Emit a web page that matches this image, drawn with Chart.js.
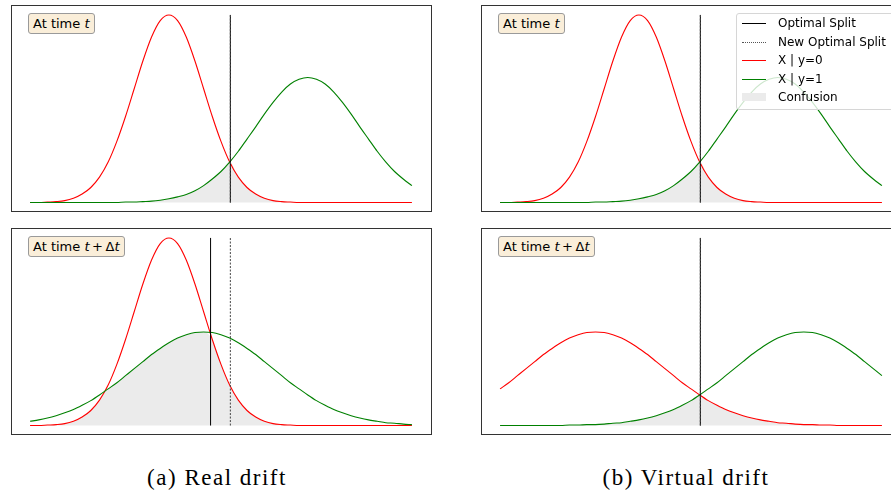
<!DOCTYPE html>
<html>
<head>
<meta charset="utf-8">
<script src="https://cdn.jsdelivr.net/npm/chart.js@4/dist/chart.umd.min.js"></script>
<style>
html, body { margin: 0; padding: 0; background: #fff; }
body { width: 891px; height: 496px; overflow: hidden; position: relative; font-family: "DejaVu Sans", sans-serif; }
.panel { position: absolute; width: 421px; height: 207px; border: 1px solid #333; box-sizing: border-box; }
.panel canvas { display: block; }
.tag { position: absolute; background: #faeed9; border: 1px solid #9a9a9a; border-radius: 3px; padding: 0 4px; font-size: 13px; line-height: 19px; color: #000; white-space: nowrap; }
.caption { position: absolute; top: 465px; font-family: "Liberation Serif", serif; font-size: 23px; letter-spacing: 1.5px; transform: translateX(-50%); white-space: nowrap; }
.legend { position: absolute; left: 736px; top: 13px; width: 170px; padding: 0 0 2px 0; background: rgba(255,255,255,0.8); border: 1px solid #d6d6d6; border-radius: 3px; font-size: 12px; }
.legend .row { height: 18.6px; line-height: 18.6px; white-space: nowrap; position: relative; padding-left: 41px; }
.legend .key { position: absolute; left: 5px; top: 9px; width: 24px; height: 0; }
</style>
</head>
<body>

<div class="panel" style="left:11px;top:5px;"><canvas id="realBefore"></canvas></div>
<div class="panel" style="left:11px;top:228px;"><canvas id="realAfter"></canvas></div>
<div class="panel" style="left:481px;top:5px;"><canvas id="virtualBefore"></canvas></div>
<div class="panel" style="left:481px;top:228px;"><canvas id="virtualAfter"></canvas></div>

<div class="tag" style="left:28px;top:13px;">At time <i>t</i></div>
<div class="tag" style="left:28px;top:236px;">At time <i>t</i>&#8201;+&#8201;Δ<i>t</i></div>
<div class="tag" style="left:498px;top:13px;">At time <i>t</i></div>
<div class="tag" style="left:498px;top:236px;">At time <i>t</i>&#8201;+&#8201;Δ<i>t</i></div>

<div class="legend" id="legend"></div>

<div class="caption" style="left:217px;">(a) Real drift</div>
<div class="caption" style="left:686px;">(b) Virtual drift</div>

<script>
// x positions of the sampled densities
var xs = [0, 0.25, 0.5, 0.75, 1, 1.25, 1.5, 1.75, 2, 2.25, 2.5, 2.75, 3, 3.25, 3.5, 3.75, 4, 4.25, 4.5, 4.75,
          5, 5.25, 5.5, 5.75, 6, 6.25, 6.5, 6.75, 7, 7.25, 7.5, 7.75, 8, 8.25, 8.5, 8.75, 9, 9.25, 9.5, 9.75,
          10, 10.25, 10.5, 10.75, 11];

// X | y=0 at time t (also real drift at t + dt)
var redBefore = [0, 0, 0.001, 0.002, 0.004, 0.009, 0.018, 0.032, 0.054, 0.086, 0.130, 0.183, 0.242, 0.301, 0.352, 0.387,
                 0.399, 0.387, 0.352, 0.301, 0.242, 0.183, 0.130, 0.086, 0.054, 0.032, 0.018, 0.009, 0.004, 0.002, 0.001,
                 0, 0, 0, 0, 0, 0, 0, 0, 0, 0, 0, 0, 0, 0];
// X | y=1 at time t
var greenBefore = [0, 0, 0, 0, 0, 0, 0, 0, 0, 0, 0, 0.001, 0.001, 0.002, 0.003, 0.005, 0.008, 0.012, 0.017, 0.025,
                   0.036, 0.050, 0.066, 0.086, 0.109, 0.135, 0.161, 0.188, 0.213, 0.235, 0.252, 0.262, 0.266, 0.262,
                   0.252, 0.235, 0.213, 0.188, 0.161, 0.135, 0.109, 0.086, 0.066, 0.050, 0.036];
// real drift, X | y=1 at t + dt
var greenRealAfter = [0.009, 0.012, 0.016, 0.021, 0.027, 0.034, 0.043, 0.053, 0.065, 0.078, 0.091, 0.106, 0.121, 0.136,
                      0.151, 0.164, 0.176, 0.186, 0.193, 0.198, 0.199, 0.198, 0.193, 0.186, 0.176, 0.164, 0.151, 0.136,
                      0.121, 0.106, 0.091, 0.078, 0.065, 0.053, 0.043, 0.034, 0.027, 0.021, 0.016, 0.012, 0.009, 0.006,
                      0.005, 0.003, 0.002];
// virtual drift, both classes at t + dt
var redVirtualAfter = [0.078, 0.091, 0.106, 0.121, 0.136, 0.151, 0.164, 0.176, 0.186, 0.193, 0.198, 0.199, 0.198, 0.193,
                       0.186, 0.176, 0.164, 0.151, 0.136, 0.121, 0.106, 0.091, 0.078, 0.065, 0.053, 0.043, 0.034, 0.027,
                       0.021, 0.016, 0.012, 0.009, 0.006, 0.005, 0.003, 0.002, 0.002, 0.001, 0.001, 0, 0, 0, 0, 0, 0];
var greenVirtualAfter = [0, 0, 0, 0, 0, 0, 0, 0, 0.001, 0.001, 0.002, 0.002, 0.003, 0.005, 0.006, 0.009, 0.012, 0.016,
                         0.021, 0.027, 0.034, 0.043, 0.053, 0.065, 0.078, 0.091, 0.106, 0.121, 0.136, 0.151, 0.164, 0.176,
                         0.186, 0.193, 0.198, 0.199, 0.198, 0.193, 0.186, 0.176, 0.164, 0.151, 0.136, 0.121, 0.106];

// split positions
var splitOld = 5.77;
var splitRealNew = 5.2;
var splitTop = 0.399;

var legendLabels = ['Optimal Split', 'New Optimal Split', 'X | y=0', 'X | y=1', 'Confusion'];

function pts(ys) {
    return xs.map(function(x, i) { return {x: x, y: ys[i]}; });
}

function makeChart(id, red, green, solidX, dashedX) {
    var confusion = red.map(function(v, i) { return Math.min(v, green[i]); });
    return new Chart(document.getElementById(id), {
        type: 'line',
        data: {
            datasets: [
                { data: [{x: dashedX, y: 0}, {x: dashedX, y: splitTop}], borderColor: '#444', borderWidth: 1, borderDash: [2, 1.5], order: 0 },
                { data: [{x: solidX, y: 0}, {x: solidX, y: splitTop}], borderColor: '#000', borderWidth: 1, order: 1 },
                { data: pts(green), borderColor: '#008000', borderWidth: 1.1, cubicInterpolationMode: 'monotone', order: 2 },
                { data: pts(red), borderColor: '#ff0000', borderWidth: 1.1, cubicInterpolationMode: 'monotone', order: 3 },
                { data: pts(confusion), borderWidth: 0, borderColor: 'rgba(0,0,0,0)', backgroundColor: '#ebebeb',
                  fill: 'origin', cubicInterpolationMode: 'monotone', order: 4 }
            ]
        },
        options: {
            animation: false,
            responsive: true,
            maintainAspectRatio: false,
            layout: { padding: 0 },
            elements: { point: { radius: 0 } },
            plugins: { legend: { display: false }, tooltip: { enabled: false } },
            scales: {
                x: { type: 'linear', display: false, min: -0.52, max: 11.55 },
                y: { display: false, min: -0.018, max: 0.418 }
            }
        }
    });
}

makeChart('realBefore', redBefore, greenBefore, splitOld, splitOld);
makeChart('realAfter', redBefore, greenRealAfter, splitRealNew, splitOld);
makeChart('virtualBefore', redBefore, greenBefore, splitOld, splitOld);
makeChart('virtualAfter', redVirtualAfter, greenVirtualAfter, splitOld, splitOld);

// legend keys
var keys = [
    'border-top:1px solid #000;',
    'border-top:1px dotted #555;',
    'border-top:1px solid #ff0000;',
    'border-top:1px solid #008000;',
    'top:5px;height:8px;background:#ebebeb;'
];
var legend = document.getElementById('legend');
legendLabels.forEach(function(label, i) {
    var row = document.createElement('div');
    row.className = 'row';
    row.innerHTML = '<span class="key" style="' + keys[i] + '"></span>' + label;
    legend.appendChild(row);
});
</script>
</body>
</html>
